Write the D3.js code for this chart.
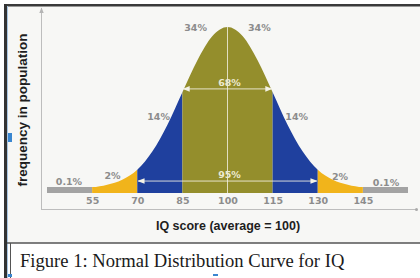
<!DOCTYPE html>
<head>
  <meta charset="utf-8">
  <script src="https://d3js.org/d3.v7.min.js"></script>
  <style>
    body { margin:0; background:#fff; }
    svg { display:block; }
  </style>
</head>
<body>
<script>

// IQ score positions and relative frequency (peak = 1)
var iqScores  = [40, 45, 50, 55, 60, 65, 70, 75, 80, 85, 90, 95, 100,
                 105, 110, 115, 120, 125, 130, 135, 140, 145, 150, 155, 160];
var frequency = [0.036, 0.036, 0.036, 0.036, 0.05, 0.08, 0.14, 0.25, 0.41, 0.607, 0.80, 0.946, 1,
                 0.946, 0.80, 0.607, 0.41, 0.25, 0.14, 0.08, 0.05, 0.036, 0.036, 0.036, 0.036];

// band edges (IQ) and the share of population in each band
var bandEdges = [40, 55, 70, 85, 115, 130, 145, 160];
var tickValues = [55, 70, 85, 100, 115, 130, 145];

// percent labels: text, IQ position, height (relative frequency)
var pctText = ["0.1%", "2%", "14%", "34%", "34%", "14%", "2%", "0.1%"];
var pctIQ   = [47.3, 61.8, 77.1, 89.4, 110.6, 123, 137.4, 152.7];
var pctFreq = [0.066, 0.102, 0.452, 0.988, 0.988, 0.452, 0.096, 0.06];

// range arrows: label, from IQ, to IQ, arrow height, label height
var rangeText = ["68%", "95%"];
var rangeFrom = [85, 70];
var rangeTo   = [115, 130];
var rangeLine = [0.627, 0.072];
var rangeLab  = [0.657, 0.108];

var bandColors = ["#a3a3a3", "#f1b41b", "#1f409e", "#948e2c", "#1f409e", "#f1b41b", "#a3a3a3"];

var W = 420, H = 278;

var svg = d3.select("body").append("svg")
    .attr("width", W)
    .attr("height", H);

// frame
svg.append("rect").attr("x", 7).attr("y", 6).attr("width", 413).attr("height", 237).attr("fill", "#f7f7f5");
svg.append("rect").attr("x", 4).attr("y", 4).attr("width", 416).attr("height", 2.5).attr("fill", "#3a3a3a");
svg.append("rect").attr("x", 4).attr("y", 4).attr("width", 3).attr("height", 274).attr("fill", "#333");
svg.append("line").attr("x1", 7.5).attr("x2", 7.5).attr("y1", 6).attr("y2", 278)
    .attr("stroke", "#a9c6e2").attr("stroke-width", 1);
svg.append("line").attr("x1", 7).attr("x2", 420).attr("y1", 243).attr("y2", 243)
    .attr("stroke", "#555").attr("stroke-width", 1.5);
svg.append("line").attr("x1", 10.5).attr("x2", 10.5).attr("y1", 243).attr("y2", 278)
    .attr("stroke", "#555").attr("stroke-width", 1);
svg.append("rect").attr("x", 8).attr("y", 133).attr("width", 4).attr("height", 9).attr("fill", "#3a86d0");
svg.append("rect").attr("x", 8).attr("y", 274).attr("width", 4).attr("height", 3).attr("fill", "#3a86d0");
svg.append("rect").attr("x", 213).attr("y", 274).attr("width", 5).attr("height", 2).attr("fill", "#3a86d0");

var x = d3.scaleLinear().domain([40, 160]).range([47, 408]);
var y = d3.scaleLinear().domain([0, 1]).range([193, 27]);

var defs = svg.append("defs");
defs.append("marker")
    .attr("id", "arr")
    .attr("viewBox", "0 0 10 10")
    .attr("refX", 9).attr("refY", 5)
    .attr("markerWidth", 7).attr("markerHeight", 7)
    .attr("orient", "auto-start-reverse")
  .append("path")
    .attr("d", "M0,1 L10,5 L0,9 Z")
    .attr("fill", "#f4f2e6");
defs.append("marker")
    .attr("id", "axarr")
    .attr("viewBox", "0 0 10 10")
    .attr("refX", 9).attr("refY", 5)
    .attr("markerWidth", 6).attr("markerHeight", 6)
    .attr("orient", "auto")
  .append("path")
    .attr("d", "M0,1 L10,5 L0,9 Z")
    .attr("fill", "#b5b5b5");

// axis lines
svg.append("line").attr("x1", 41.5).attr("x2", 41.5).attr("y1", 210).attr("y2", 8)
    .attr("stroke", "#bdbdbd").attr("stroke-width", 1).attr("marker-end", "url(#axarr)");
svg.append("line").attr("x1", 41).attr("x2", 416).attr("y1", 209.5).attr("y2", 209.5)
    .attr("stroke", "#bdbdbd").attr("stroke-width", 1);
svg.append("circle").attr("cx", 416.5).attr("cy", 209.5).attr("r", 1.5).attr("fill", "#aaa");

var pts = iqScores.map(function(d, i){ return [d, frequency[i]]; });

var area = d3.area()
    .x(function(d){ return x(d[0]); })
    .y0(y(0))
    .y1(function(d){ return y(d[1]); })
    .curve(d3.curveMonotoneX);

// one clip per band, same curve
for (var i = 0; i < bandEdges.length - 1; i++) {
  defs.append("clipPath").attr("id", "band" + i)
    .append("rect")
      .attr("x", x(bandEdges[i]))
      .attr("width", x(bandEdges[i + 1]) - x(bandEdges[i]))
      .attr("y", 0).attr("height", y(0));
  svg.append("path")
      .datum(pts)
      .attr("clip-path", "url(#band" + i + ")")
      .attr("fill", bandColors[i])
      .attr("d", area);
}

// mean line
svg.append("line")
    .attr("x1", x(100)).attr("x2", x(100))
    .attr("y1", y(1)).attr("y2", y(0))
    .attr("stroke", "#f4f2e6").attr("stroke-opacity", 0.8).attr("stroke-width", 1);

// range arrows
rangeText.forEach(function(t, i){
  svg.append("line")
      .attr("x1", x(rangeFrom[i]) + 1).attr("x2", x(rangeTo[i]) - 1)
      .attr("y1", y(rangeLine[i])).attr("y2", y(rangeLine[i]))
      .attr("stroke", "#f4f2e6").attr("stroke-opacity", 0.85).attr("stroke-width", 1)
      .attr("marker-start", "url(#arr)")
      .attr("marker-end", "url(#arr)");
  svg.append("text")
      .attr("x", x(100) + 2).attr("y", y(rangeLab[i]))
      .attr("text-anchor", "middle")
      .attr("dominant-baseline", "middle")
      .attr("font-family", "DejaVu Sans")
      .attr("font-weight", "bold")
      .attr("font-size", 9.5)
      .attr("fill", "#ecead2")
      .text(t);
});

// percent labels
svg.selectAll(".pct")
  .data(pctText)
  .enter().append("text")
    .attr("class", "pct")
    .attr("x", function(d, i){ return x(pctIQ[i]); })
    .attr("y", function(d, i){ return y(pctFreq[i]); })
    .attr("text-anchor", "middle")
    .attr("dominant-baseline", "middle")
    .attr("font-family", "DejaVu Sans")
    .attr("font-weight", "bold")
    .attr("font-size", 9.5)
    .attr("fill", "#8c8c8c")
    .text(function(d){ return d; });

// tick labels
var xAxis = svg.append("g")
    .attr("transform", "translate(0," + y(0) + ")")
    .call(d3.axisBottom(x).tickValues(tickValues).tickSize(0).tickPadding(4));
xAxis.select(".domain").remove();
xAxis.selectAll("text")
    .attr("font-family", "DejaVu Sans")
    .attr("font-weight", "bold")
    .attr("font-size", 9.5)
    .attr("fill", "#8c8c8c");

// axis titles
svg.append("text")
    .attr("x", 228).attr("y", 230)
    .attr("text-anchor", "middle")
    .attr("font-family", "Liberation Sans")
    .attr("font-weight", "bold")
    .attr("font-size", 12.5)
    .attr("fill", "#1e1e1e")
    .text("IQ score (average = 100)");

svg.append("text")
    .attr("transform", "translate(27,110) rotate(-90)")
    .attr("text-anchor", "middle")
    .attr("font-family", "Liberation Sans")
    .attr("font-weight", "bold")
    .attr("font-size", 13.5)
    .attr("fill", "#1e1e1e")
    .text("frequency in population");

// caption
svg.append("text")
    .attr("x", 20).attr("y", 267)
    .attr("font-family", "Liberation Serif")
    .attr("font-size", 18.6)
    .attr("fill", "#1a1a1a")
    .text("Figure 1: Normal Distribution Curve for IQ");

</script>
</body>
